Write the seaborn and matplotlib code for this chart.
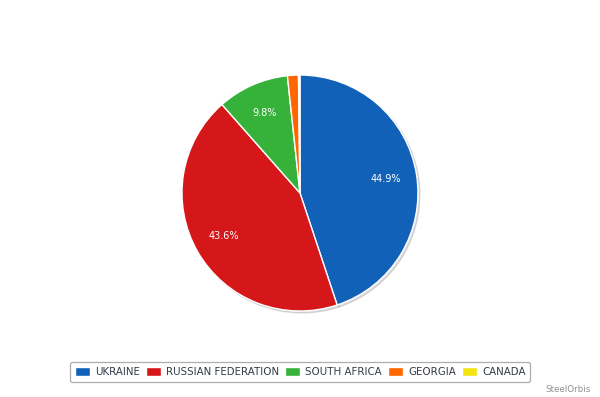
import matplotlib
matplotlib.use('Agg')
import matplotlib.pyplot as plt
import seaborn as sns

# import origins share
countries = ['UKRAINE', 'RUSSIAN FEDERATION', 'SOUTH AFRICA', 'GEORGIA', 'CANADA']
shares = [44.9, 43.6, 9.8, 1.5, 0.2]
colors = ['#1161b8', '#d51719', '#36b23b', '#ff6600', '#f2e40f']

sns.set_theme(style='white')
plt.rcParams['font.family'] = ['DejaVu Sans']

pal = sns.color_palette(colors)

fig = plt.figure(figsize=(6, 3.97), dpi=100)
ax = fig.add_axes([0.3033, 0.2166, 0.3933, 0.5945])

wedges, texts, autotexts = ax.pie(
    shares, colors=pal, startangle=90, counterclock=False,
    autopct=lambda p: f'{p:.1f}%' if p > 5 else '', pctdistance=0.74,
    wedgeprops={'edgecolor': 'white', 'linewidth': 1},
    shadow={'ox': 0.012, 'oy': -0.012, 'shade': 0.0, 'alpha': 0.18,
            'color': '#555555'},
    textprops={'color': 'white', 'fontsize': 7})
ax.set_xlim(-1, 1)
ax.set_ylim(-1, 1)
ax.set_aspect('equal')
ax.axis('off')

leg = fig.legend(wedges, countries, loc='center', bbox_to_anchor=(0.5, 0.063),
                 ncol=5, fontsize=7.4, frameon=True, handlelength=1.45,
                 handleheight=1.0, handletextpad=0.5, columnspacing=0.6,
                 borderpad=0.45, fancybox=True, labelcolor='#333a48')
leg.get_frame().set_edgecolor('#999999')
leg.get_frame().set_linewidth(0.9)

fig.text(0.985, 0.008, 'SteelOrbis', ha='right', va='bottom', fontsize=6.3,
         color='#909090')

fig.savefig('out.png', dpi=100)
